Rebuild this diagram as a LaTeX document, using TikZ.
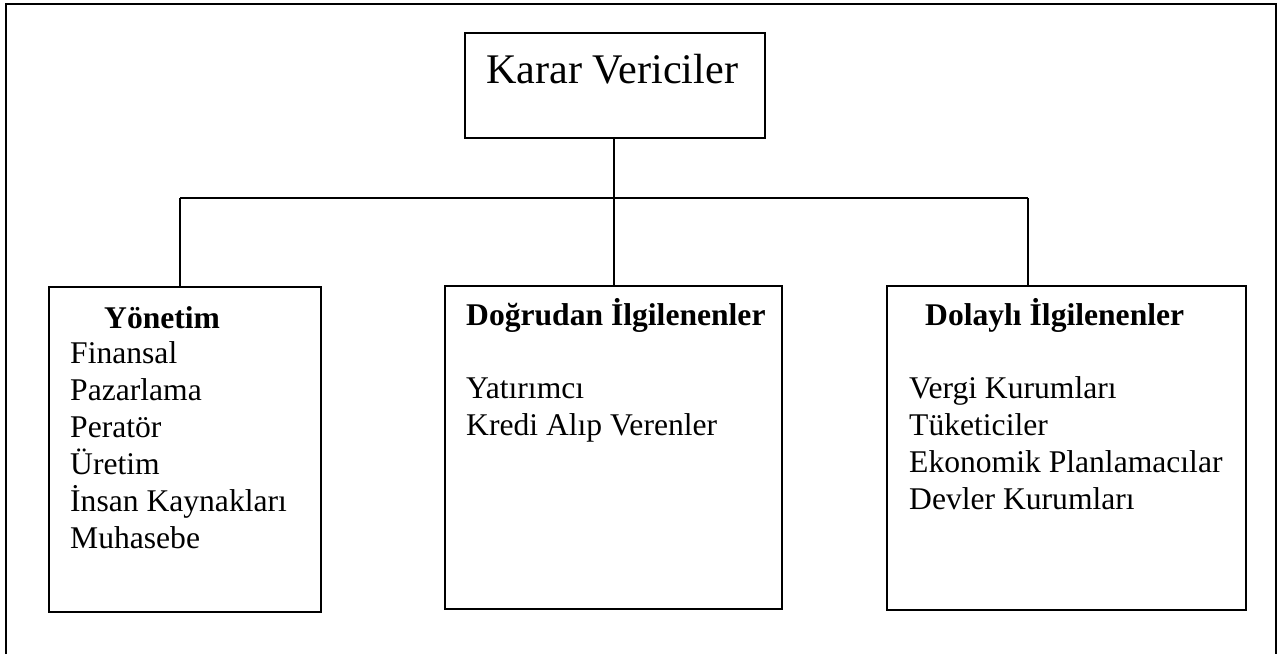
\documentclass[tikz,border=0pt]{standalone}
\usepackage{fontspec}
\setmainfont{Liberation Serif}
\begin{document}
\begin{tikzpicture}[x=1pt,y=-1pt,
  box/.style={draw,line width=1.4pt},
  conn/.style={line width=1.1pt},
  txt/.style={anchor=base west,inner sep=0pt,font=\fontsize{31.6}{37}\selectfont},
  btxt/.style={txt,font=\fontsize{31.6}{37}\selectfont\bfseries},
  big/.style={anchor=base west,inner sep=0pt,font=\fontsize{42.2}{48}\selectfont}]
\useasboundingbox (0,0) rectangle (1279,654);
% outer frame (open at bottom)
\draw[line width=1.6pt] (6,654) -- (6,4) -- (1276,4) -- (1276,654);
% boxes
\draw[box] (465,33) rectangle (765,138);
\coordinate (karar) at (614,138);
\draw[box] (49,287) rectangle (321,612);
\coordinate (yon) at (180,287);
\draw[box] (445,286) rectangle (782,609);
\coordinate (dog) at (614,286);
\draw[box] (887,286) rectangle (1246,610);
\coordinate (dol) at (1028,286);
% junctions
\coordinate (jc) at (614,198);
\coordinate (jl) at (180,198);
\coordinate (jr) at (1028,198);
\coordinate (jt) at (614,226);
% connectors
\draw[conn] (karar) -- (jc);
\draw[conn] (jl) -- (jr);
\draw[conn] (jl) -- (yon);
\draw[conn] (jr) -- (dol);
\draw[line width=1.7pt] (jc) -- (jt);
\draw[conn] (jt) -- (dog);
% texts
\node[big] (tk) at (486,83) {Karar Vericiler};
\node[btxt] (t1) at (104,328) {Yönetim};
\node[txt] (t2) at (70,363) {Finansal};
\node[txt] (t3) at (70,400) {Pazarlama};
\node[txt] (t4) at (70,437) {Peratör};
\node[txt] (t5) at (70,474) {Üretim};
\node[txt] (t6) at (70,511) {İnsan Kaynakları};
\node[txt] (t7) at (70,548) {Muhasebe};
\node[btxt] (m1) at (466,325) {Doğrudan İlgilenenler};
\node[txt] (m2) at (466,398) {Yatırımcı};
\node[txt] (m3) at (466,435) {Kredi Alıp Verenler};
\node[btxt] (r1) at (925,325) {Dolaylı İlgilenenler};
\node[txt] (r2) at (909,398) {Vergi Kurumları};
\node[txt] (r3) at (909,435) {Tüketiciler};
\node[txt] (r4) at (909,472) {Ekonomik Planlamacılar};
\node[txt] (r5) at (909,509) {Devler Kurumları};
\end{tikzpicture}
\end{document}
